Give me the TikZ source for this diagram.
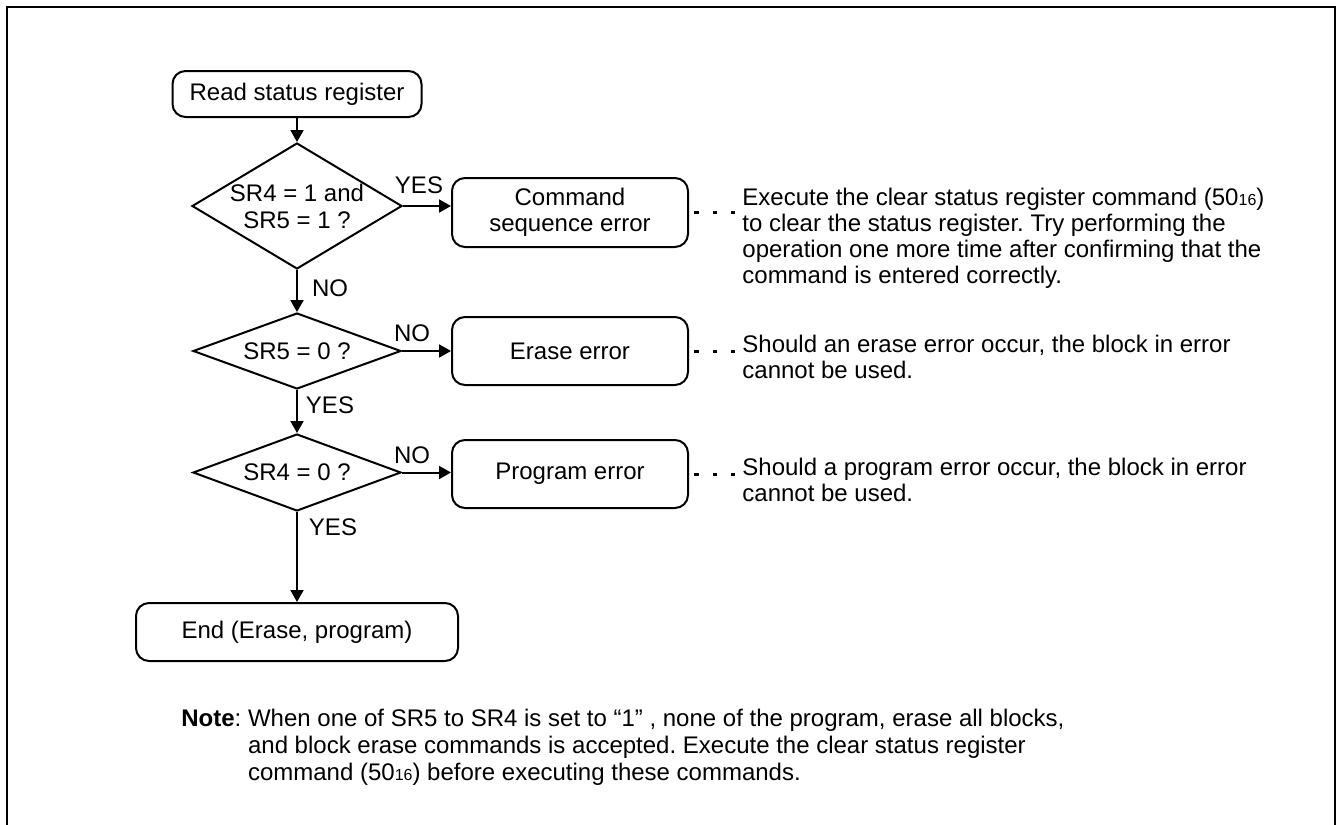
\documentclass[tikz,border=0pt]{standalone}
\usepackage{fontspec}
\setmainfont{Liberation Sans}
\usetikzlibrary{arrows.meta,shapes.geometric}
\newcommand{\hexsub}[1]{{\fontsize{8}{8}\selectfont #1}}
\frenchspacing

\begin{document}
\begin{tikzpicture}[x=0.5pt,y=-0.5pt,
  every node/.style={font=\fontsize{12}{13}\selectfont},
  procbox/.style={draw,line width=1pt,rounded corners=6.5pt,align=center,inner sep=0pt},
  decision/.style={draw,diamond,line width=1pt,align=center,inner sep=0pt},
  lbl/.style={inner sep=0pt},
  remark/.style={align=left,inner sep=0pt,anchor=west},
  flow/.style={-{Triangle[length=6pt,width=6.5pt]},line width=1pt},
  dotlink/.style={line width=1.5pt,dash pattern=on 2.4pt off 6.9pt}]
  \useasboundingbox (0,0) rectangle (1340,825);
  \draw[line width=1.2pt] (7,825) -- (7,7) -- (1335,7) -- (1335,825);
  % main column
  \node[procbox,minimum width=124.5pt,minimum height=23pt] (readsr) at (297,94) {Read status register};
  \node[decision,minimum width=105pt,minimum height=63pt,shape aspect=1.67,font=\fontsize{12}{13.5}\selectfont] (chk1) at (297,206) {SR4 = 1 and\\SR5 = 1 ?};
  \node[decision,minimum width=104pt,minimum height=38pt,shape aspect=2.7] (chk2) at (297,351) {SR5 = 0 ?};
  \node[decision,minimum width=104pt,minimum height=38.5pt,shape aspect=2.7] (chk3) at (297,472.5) {SR4 = 0 ?};
  \node[procbox,minimum width=161pt,minimum height=29pt] (endsr) at (297,632) {End (Erase, program)};
  % error boxes
  \node[procbox,minimum width=118pt,minimum height=34.5pt] (cmderr) at (570,212.5) {Command\\sequence error};
  \node[procbox,minimum width=118pt,minimum height=34pt] (eraseerr) at (570,351) {Erase error};
  \node[procbox,minimum width=118pt,minimum height=34pt] (progerr) at (570,474) {Program error};
  % remarks
  \node[remark] (cmdnote) at (742,238) {Execute the clear status register command (50\hexsub{16})\\to clear the status register. Try performing the\\operation one more time after confirming that the\\command is entered correctly.};
  \node[remark] (erasenote) at (742,357) {Should an erase error occur, the block in error\\cannot be used.};
  \node[remark] (prognote) at (742,480) {Should a program error occur, the block in error\\cannot be used.};
  % branch labels
  \node[lbl] (yes1) at (419,185) {YES};
  \node[lbl] (no1) at (330,288) {NO};
  \node[lbl] (no2) at (412,333) {NO};
  \node[lbl] (yes2) at (330,405) {YES};
  \node[lbl] (no3) at (412,455) {NO};
  \node[lbl] (yes3) at (333,527) {YES};
  % flow
  \draw[flow] (readsr.south) -- (chk1.north);
  \draw[flow] (chk1.south) -- (chk2.north);
  \draw[flow] (chk2.south) -- (chk3.north);
  \draw[flow] (chk3.south) -- (endsr.north);
  \draw[flow] (chk1.east) -- (chk1.east -| cmderr.west);
  \draw[flow] (chk2.east) -- (chk2.east -| eraseerr.west);
  \draw[flow] (chk3.east) -- (chk3.east -| progerr.west);
  % dotted links
  \foreach \b/\n in {cmderr/cmdnote,eraseerr/erasenote,progerr/prognote}
    { \draw[dotlink] ([xshift=2.5pt]\b.east) -- ([xshift=-3.5pt]\b.east -| \n.west); }
  % note
  \node[anchor=north west,align=left,inner sep=0pt,font=\fontsize{12}{13.5}\selectfont] (note) at (181,709) {\textbf{Note}: When one of SR5 to SR4 is set to “1” , none of the program, erase all blocks,\\\phantom{\textbf{Note}: }and block erase commands is accepted. Execute the clear status register\\\phantom{\textbf{Note}: }command (50\hexsub{16}) before executing these commands.};
\end{tikzpicture}
\end{document}
